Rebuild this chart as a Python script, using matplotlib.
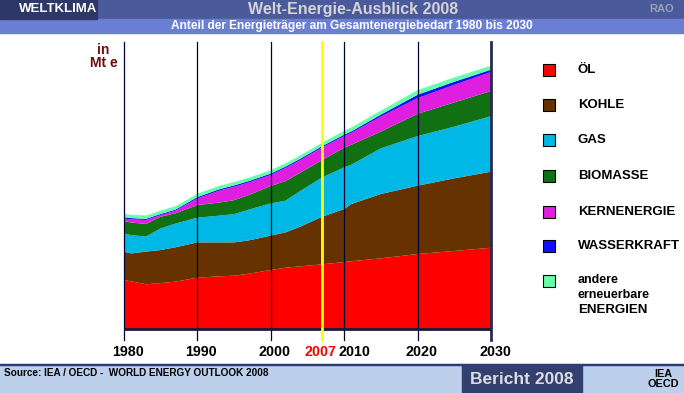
import matplotlib
matplotlib.use('Agg')
import matplotlib.pyplot as plt
from matplotlib.patches import Rectangle

plt.rcParams['font.family'] = ['Liberation Sans', 'DejaVu Sans']

# Weltenergiebedarf in Mt e
years = [1980, 1981, 1983, 1985, 1987, 1990, 1993, 1995, 1997, 2000,
         2002, 2004, 2007, 2010, 2011, 2015, 2020, 2025, 2030]
oel = [3190, 3100, 2910, 2990, 3080, 3340, 3430, 3470, 3600, 3840,
       3990, 4080, 4210, 4360, 4410, 4600, 4880, 5080, 5290]
kohle = [1840, 1820, 2130, 2150, 2240, 2300, 2210, 2170, 2170, 2240,
         2300, 2580, 3100, 3450, 3730, 4190, 4450, 4730, 4950]
gas = [1190, 1190, 980, 1410, 1540, 1610, 1740, 1840, 2000, 2100,
       2060, 2320, 2560, 2710, 2560, 2970, 3230, 3360, 3620]
biomasse = [800, 820, 820, 760, 670, 820, 850, 910, 950, 1130,
            1280, 1190, 1130, 1280, 1300, 1090, 1450, 1580, 1630]
kernenergie = [170, 200, 260, 110, 170, 430, 780, 870, 820, 720,
               850, 820, 820, 760, 780, 980, 1020, 1150, 1240]
wasserkraft = [90, 90, 70, 70, 70, 90, 90, 90, 90, 90,
               90, 90, 90, 90, 90, 130, 220, 200, 150]
andere = [220, 220, 220, 220, 220, 220, 220, 220, 220, 220,
          220, 220, 220, 260, 260, 260, 300, 280, 260]

labels = ['ÖL', 'KOHLE', 'GAS', 'BIOMASSE', 'KERNENERGIE', 'WASSERKRAFT',
          'andere\nerneuerbare\nENERGIEN']
colors = ['#ff0000', '#663300', '#00b8e6', '#117011', '#e01ee0', '#1010ff', '#66ffaa']
tick_years = [1980, 1990, 2000, 2010, 2020, 2030]

W, H = 684, 393
fig = plt.figure(figsize=(W / 100, H / 100), dpi=100)


def fx(px):
    return px / W


def fy(py):
    return 1 - py / H


# header bars
fig.patches.append(Rectangle((0, fy(19)), 1, 19 / H, transform=fig.transFigure,
                             color='#4a5a9a', zorder=0))
fig.patches.append(Rectangle((0, fy(33)), 1, 14 / H, transform=fig.transFigure,
                             color='#6a7fd4', zorder=0))
fig.patches.append(Rectangle((0, fy(19)), 97 / W, 19 / H, transform=fig.transFigure,
                             color='#2e3868', zorder=1))
fig.text(fx(19), fy(9.5), 'WELTKLIMA', color='white', fontsize=9.5, fontweight='bold',
         va='center', ha='left')
fig.text(fx(353), fy(9.5), 'Welt-Energie-Ausblick 2008', color='#d4d4d8', fontsize=11.5,
         fontweight='bold', va='center', ha='center')
fig.text(fx(662), fy(9.5), 'RAO', color='#9aa0bc', fontsize=8, fontweight='bold',
         va='center', ha='center')
fig.text(fx(352), fy(26), 'Anteil der Energieträger am Gesamtenergiebedarf 1980 bis 2030',
         color='white', fontsize=8.6, fontweight='bold', va='center', ha='center')

# footer
fig.patches.append(Rectangle((0, 0), 1, (H - 364) / H, transform=fig.transFigure,
                             color='#bcd0ec', zorder=0))
fig.patches.append(Rectangle((0, fy(365)), 1, 1.5 / H, transform=fig.transFigure,
                             color='#2e3a78', zorder=1))
fig.patches.append(Rectangle((fx(462), 0), 120 / W, (H - 365) / H, transform=fig.transFigure,
                             color='#333f6e', zorder=1))
fig.text(fx(4), fy(373), 'Source: IEA / OECD -  WORLD ENERGY OUTLOOK 2008', color='black',
         fontsize=7.2, fontweight='bold', va='center', ha='left')
fig.text(fx(522), fy(379), 'Bericht 2008', color='#dcdce4', fontsize=12.5,
         fontweight='bold', va='center', ha='center')
fig.text(fx(663), fy(379), 'IEA\nOECD', color='black', fontsize=7.8, fontweight='bold',
         va='center', ha='center', linespacing=1.0)

# chart area
scale = 65.1  # Mt e per pixel
ppy = 367 / 50  # pixels per year
ax = fig.add_axes([fx(124), fy(340), 367 / W, 298 / H])
ax.set_xlim(1980, 2030)
ax.set_ylim(-(340 - 329) * scale, (329 - 42) * scale)
ax.axis('off')

ax.stackplot(years, oel, kohle, gas, biomasse, kernenergie, wasserkraft, andere,
             colors=colors, linewidth=0, zorder=1)

ymin, ymax = ax.get_ylim()
for y in tick_years[:-1]:
    ax.plot([y, y], [ymin, ymax], color='#000033', lw=0.9, zorder=3, clip_on=False)
ax.plot([2030, 2030], [ymin, ymax], color='#2a2a50', lw=2.0, zorder=3, clip_on=False)
ax.plot([2007, 2007], [ymin, ymax], color='#ffff00', lw=2.0, zorder=4, clip_on=False)
ax.plot([1980, 2030], [0, 0], color='#1a1a40', lw=2.0, zorder=3, solid_capstyle='butt')

label_y = -(352 - 329) * scale
for y in tick_years:
    shift = 10 if y == 2010 else 4
    ax.text(y + shift / ppy, label_y, str(y), color='black', fontsize=10.3,
            fontweight='bold', ha='center', va='center', clip_on=False)
ax.text(2007 - 1.5 / ppy, label_y, '2007', color='#ff0000', fontsize=10.3,
        fontweight='bold', ha='center', va='center', clip_on=False)

fig.text(fx(103), fy(50), 'in', color='#6b0f0f', fontsize=10, fontweight='bold',
         ha='center', va='center')
fig.text(fx(104), fy(63), 'Mt e', color='#6b0f0f', fontsize=10, fontweight='bold',
         ha='center', va='center')

# legend
leg_y = [70, 105, 140, 176, 212, 246, 281]
for i, (lab, col) in enumerate(zip(labels, colors)):
    yy = leg_y[i]
    fig.patches.append(Rectangle((fx(543), fy(yy + 6)), 12 / W, 12 / H,
                                 transform=fig.transFigure, facecolor=col,
                                 edgecolor='black', lw=0.8, zorder=2))
    if '\n' in lab:
        parts = lab.split('\n')
        fig.text(fx(578), fy(yy - 1), parts[0], fontsize=9, fontweight='bold',
                 ha='left', va='center')
        fig.text(fx(578), fy(yy + 14), parts[1], fontsize=9, fontweight='bold',
                 ha='left', va='center')
        fig.text(fx(578), fy(yy + 29), parts[2], fontsize=9.5, fontweight='bold',
                 ha='left', va='center')
    else:
        fig.text(fx(578), fy(yy), lab, fontsize=9.5, fontweight='bold',
                 ha='left', va='center')

fig.savefig('out.png', dpi=100)
